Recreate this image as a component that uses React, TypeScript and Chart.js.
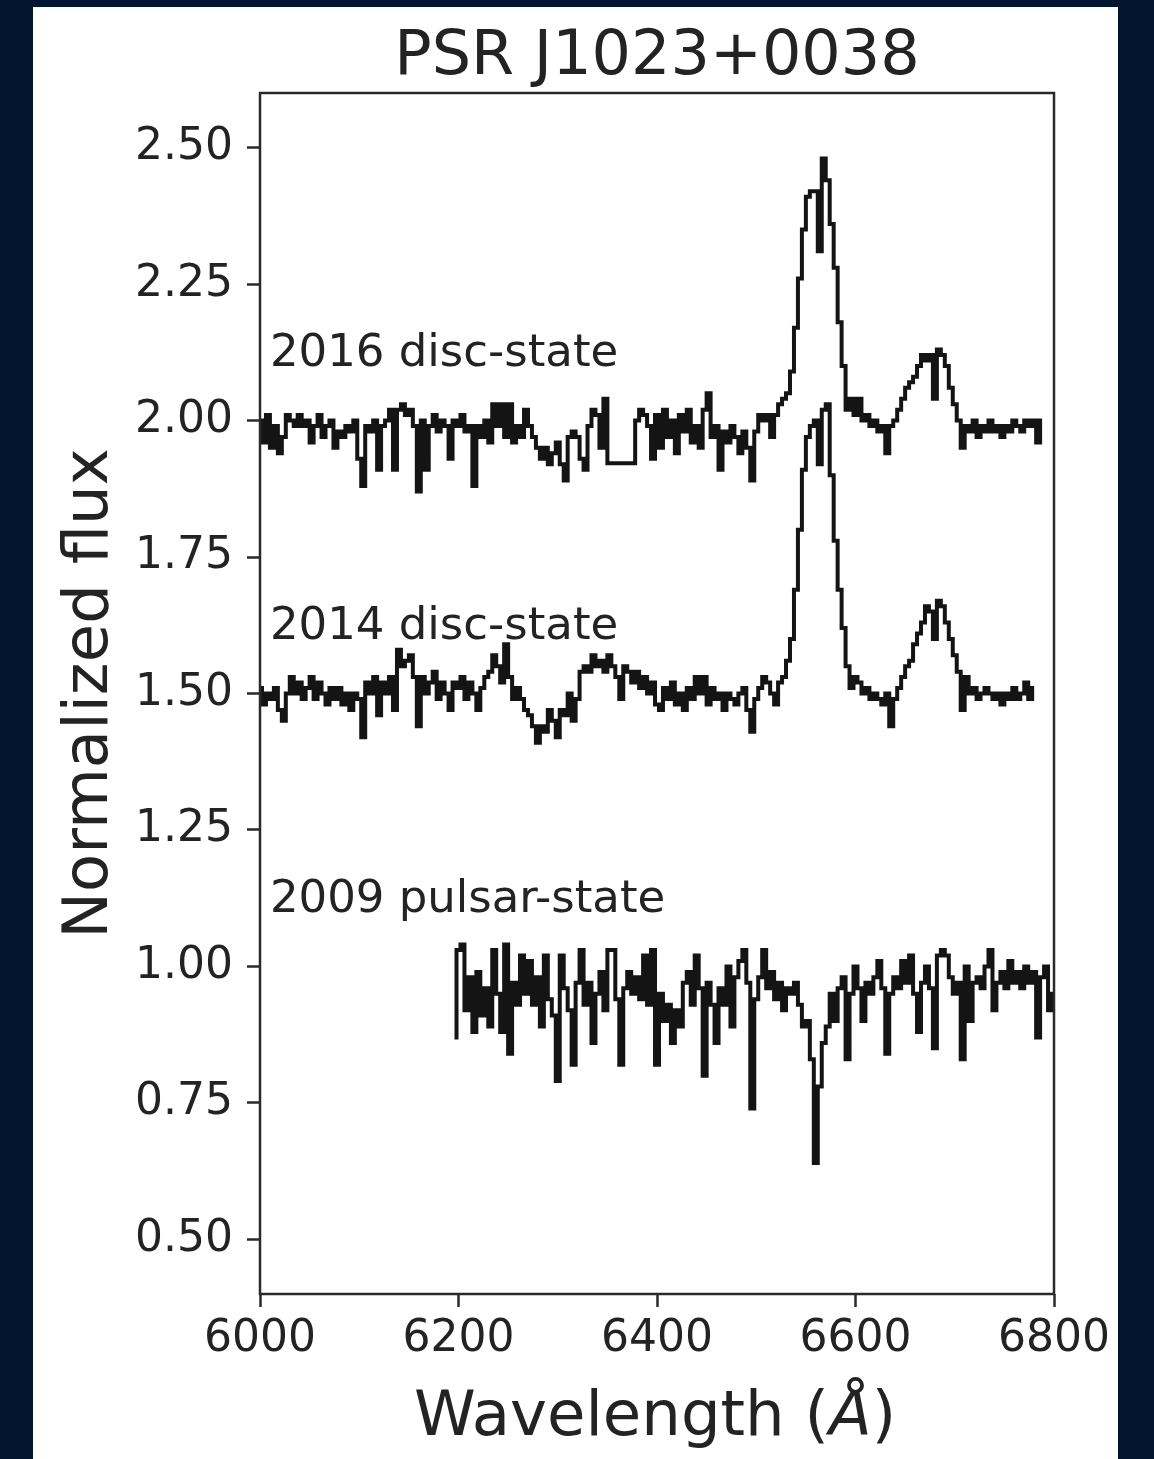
import React, { useEffect, useRef } from 'react';
import { Chart, registerables } from 'chart.js';

Chart.register(...registerables);

// ---------------- data ----------------
const titleText = 'PSR J1023+0038';
const xTitleParts = ['Wavelength (', 'Å', ')'];
const yTitleText = 'Normalized flux';

const xRange = [6000, 6800];
const yRange = [0.4, 2.6];
const xTicks = [6000, 6200, 6400, 6600, 6800];
const yTicks = [0.5, 0.75, 1.0, 1.25, 1.5, 1.75, 2.0, 2.25, 2.5];

const seriesLabels = ['2016 disc-state', '2014 disc-state', '2009 pulsar-state'];
const labelX = 6010;
const labelY = [2.1, 1.6, 1.1];

const step = 4; // Å per sample
const start2016 = 6000;
const flux2016 = [
  2.00, 1.96, 2.01, 1.95, 1.99, 1.94, 1.97, 2.01, 2.00, 1.99,
  2.01, 1.99, 2.00, 1.96, 1.99, 2.01, 1.97, 1.99, 2.00, 1.95,
  1.98, 1.97, 1.99, 1.98, 2.00, 1.93, 1.88, 1.99, 1.98, 2.00,
  1.91, 1.99, 2.00, 2.02, 1.91, 2.02, 2.03, 2.01, 2.02, 1.99,
  1.87, 2.00, 1.91, 1.99, 2.01, 1.98, 2.00, 1.99, 1.93, 2.00,
  1.99, 2.01, 1.98, 1.99, 1.88, 1.99, 1.97, 2.00, 1.96, 2.03,
  1.99, 2.03, 1.97, 2.03, 1.96, 1.99, 1.97, 2.02, 1.99, 1.97,
  1.95, 1.93, 1.95, 1.92, 1.94, 1.96, 1.92, 1.89, 1.97, 1.98,
  1.97, 1.93, 1.91, 1.99, 2.02, 2.01, 1.95, 2.04, 1.922, 1.922,
  1.922, 1.922, 1.922, 1.922, 1.922, 2.00, 2.02, 2.01, 1.99, 1.93,
  2.01, 1.95, 2.02, 1.97, 2.00, 1.94, 2.01, 1.98, 2.02, 1.96,
  1.99, 1.95, 2.02, 2.05, 1.97, 1.99, 1.91, 1.98, 1.96, 1.99,
  1.97, 1.94, 1.98, 1.95, 1.89, 1.98, 2.01, 2.00, 2.01, 1.97,
  2.01, 2.03, 2.04, 2.05, 2.09, 2.17, 2.26, 2.35, 2.41, 2.42,
  2.42, 2.31, 2.48, 2.44, 2.36, 2.28, 2.18, 2.10, 2.02, 2.04,
  2.01, 2.04, 2.00, 2.01, 1.99, 2.00, 1.98, 1.99, 1.94, 1.99,
  2.00, 2.02, 2.04, 2.06, 2.07, 2.08, 2.10, 2.12, 2.11, 2.12,
  2.04, 2.13, 2.12, 2.10, 2.06, 2.03, 2.00, 1.95, 1.99, 1.98,
  2.00, 1.97, 1.99, 1.98, 2.00, 1.98, 1.99, 1.97, 1.99, 1.98,
  2.00, 1.99, 1.98, 2.00, 1.99, 2.00, 1.96, 2.00,
];

const start2014 = 6000;
const flux2014 = [
  1.51, 1.48, 1.50, 1.49, 1.51, 1.47, 1.45, 1.50, 1.53, 1.50,
  1.52, 1.49, 1.51, 1.53, 1.49, 1.52, 1.50, 1.48, 1.51, 1.49,
  1.51, 1.48, 1.50, 1.47, 1.50, 1.49, 1.42, 1.52, 1.50, 1.53,
  1.46, 1.52, 1.50, 1.53, 1.47, 1.58, 1.55, 1.56, 1.57, 1.53,
  1.44, 1.53, 1.50, 1.52, 1.54, 1.49, 1.52, 1.50, 1.47, 1.52,
  1.51, 1.53, 1.49, 1.52, 1.50, 1.47, 1.51, 1.53, 1.54, 1.57,
  1.55, 1.52, 1.59, 1.53, 1.49, 1.51, 1.49, 1.47, 1.46, 1.44,
  1.41, 1.44, 1.43, 1.47, 1.45, 1.42, 1.47, 1.46, 1.50, 1.45,
  1.49, 1.54, 1.55, 1.54, 1.57, 1.55, 1.56, 1.54, 1.57, 1.55,
  1.53, 1.49, 1.55, 1.54, 1.52, 1.54, 1.51, 1.53, 1.50, 1.52,
  1.48, 1.47, 1.51, 1.49, 1.52, 1.48, 1.50, 1.47, 1.51, 1.49,
  1.53, 1.50, 1.53, 1.48, 1.51, 1.49, 1.50, 1.47, 1.50, 1.49,
  1.48, 1.50, 1.51, 1.47, 1.43, 1.49, 1.51, 1.53, 1.52, 1.50,
  1.48, 1.52, 1.53, 1.56, 1.60, 1.69, 1.80, 1.91, 1.97, 1.99,
  2.00, 1.92, 2.02, 2.03, 1.90, 1.78, 1.69, 1.62, 1.55, 1.51,
  1.53, 1.52, 1.50, 1.51, 1.49, 1.50, 1.49, 1.48, 1.50, 1.44,
  1.49, 1.51, 1.53, 1.55, 1.56, 1.59, 1.61, 1.63, 1.66, 1.65,
  1.60, 1.67, 1.66, 1.63, 1.60, 1.57, 1.54, 1.47, 1.53, 1.50,
  1.51, 1.49, 1.50, 1.51, 1.50, 1.49, 1.50, 1.48, 1.50, 1.49,
  1.51, 1.49, 1.50, 1.52, 1.49, 1.51,
];

const start2009 = 6196;
const flux2009 = [
  0.87, 1.03, 1.04, 0.92, 0.98, 0.88, 0.99, 0.91, 0.96, 0.89,
  1.03, 0.95, 0.88, 1.04, 0.84, 0.97, 0.93, 1.02, 0.95, 1.01,
  0.93, 0.98, 0.89, 1.02, 0.94, 0.91, 0.79, 1.02, 0.96, 0.92,
  0.82, 0.97, 1.03, 0.93, 0.97, 0.86, 0.95, 0.99, 0.92, 1.03,
  1.03, 0.94, 0.82, 0.96, 0.99, 0.95, 0.98, 0.94, 1.02, 0.93,
  1.03, 0.82, 0.95, 0.90, 0.93, 0.86, 0.92, 0.89, 0.97, 0.99,
  0.93, 1.02, 0.96, 0.80, 0.97, 0.93, 0.86, 0.96, 0.93, 1.00,
  0.89, 0.98, 1.01, 1.03, 0.97, 0.74, 0.94, 0.98, 1.03, 0.96,
  0.99, 0.94, 0.97, 0.92, 0.96, 0.95, 0.97, 0.93, 0.89, 0.90,
  0.83, 0.64, 0.78, 0.86, 0.89, 0.95, 0.90, 0.96, 0.98, 0.83,
  0.95, 1.00, 0.96, 0.90, 0.97, 0.95, 0.98, 1.01, 0.96, 0.84,
  0.95, 0.98, 0.96, 1.01, 0.97, 1.02, 0.95, 0.88, 0.97, 1.00,
  0.96, 0.85, 1.02, 1.03, 1.02, 0.98, 0.95, 0.97, 0.83, 1.00,
  0.90, 0.97, 0.98, 0.96, 1.00, 1.03, 0.92, 0.97, 0.99, 0.96,
  1.01, 0.97, 0.99, 0.96, 1.00, 0.97, 0.99, 0.87, 0.98, 1.00,
  0.92, 0.95,
];

// ---------------- styling ----------------
const NAVY = '#011530';
const INK = '#141414';
const TEXT = '#232323';
const FRAME = '#2a2a2a';
const FONT = '"DejaVu Sans", "Liberation Sans", sans-serif';

const toPoints = (start: number, vals: number[]) =>
  vals.map((v, i) => ({ x: start + i * step, y: v }));

const textPlugin = {
  id: 'frameAndText',
  afterDatasetsDraw(chart: any) {
    const { ctx, chartArea } = chart;
    ctx.save();
    ctx.strokeStyle = FRAME;
    ctx.lineWidth = 2.5;
    ctx.strokeRect(chartArea.left, chartArea.top, chartArea.right - chartArea.left, chartArea.bottom - chartArea.top);
    ctx.restore();
  },
  afterDraw(chart: any) {
    const { ctx, chartArea, scales } = chart;
    const cx = (chartArea.left + chartArea.right) / 2;
    const cy = (chartArea.top + chartArea.bottom) / 2;
    ctx.save();
    ctx.fillStyle = TEXT;
    ctx.textBaseline = 'alphabetic';

    // title
    ctx.font = `62px ${FONT}`;
    ctx.textAlign = 'center';
    ctx.fillText(titleText, cx, chartArea.top - 19);

    // x title with italic Å
    const normal = `62.5px ${FONT}`;
    const italic = `italic 62.5px ${FONT}`;
    ctx.font = normal;
    const w0 = ctx.measureText(xTitleParts[0]).width;
    const w2 = ctx.measureText(xTitleParts[2]).width;
    ctx.font = italic;
    const w1 = ctx.measureText(xTitleParts[1]).width;
    const total = w0 + w1 + w2;
    let x = cx - total / 2 - 2;
    const by = chartArea.bottom + 141;
    ctx.textAlign = 'left';
    ctx.font = normal;
    ctx.fillText(xTitleParts[0], x, by);
    x += w0;
    ctx.font = italic;
    ctx.fillText(xTitleParts[1], x, by);
    x += w1;
    ctx.font = normal;
    ctx.fillText(xTitleParts[2], x, by);

    // y title
    ctx.save();
    ctx.translate(chartArea.left - 153, cy);
    ctx.rotate(-Math.PI / 2);
    ctx.textAlign = 'center';
    ctx.font = normal;
    ctx.fillText(yTitleText, 0, 0);
    ctx.restore();

    // series annotations
    ctx.font = `45px ${FONT}`;
    ctx.textAlign = 'left';
    seriesLabels.forEach((t, i) => {
      ctx.fillText(t, scales.x.getPixelForValue(labelX), scales.y.getPixelForValue(labelY[i]));
    });
    ctx.restore();
  },
};

export default function App() {
  const ref = useRef<HTMLCanvasElement | null>(null);

  useEffect(() => {
    if (!ref.current) return;
    const line = (start: number, vals: number[]) => ({
      data: toPoints(start, vals),
      borderColor: INK,
      borderWidth: 4,
      pointRadius: 0,
      stepped: 'middle' as const,
      fill: false,
      tension: 0,
    });
    const tickGrid = {
      display: true,
      drawOnChartArea: false,
      drawTicks: true,
      tickLength: 13,
      tickWidth: 2.5,
      tickColor: FRAME,
    };
    const chart = new Chart(ref.current, {
      type: 'line',
      data: {
        datasets: [
          { label: seriesLabels[0], ...line(start2016, flux2016) },
          { label: seriesLabels[1], ...line(start2014, flux2014) },
          { label: seriesLabels[2], ...line(start2009, flux2009) },
        ],
      },
      options: {
        responsive: false,
        animation: false,
        layout: { padding: { left: 0, top: 86, right: 64, bottom: 0 } },
        plugins: { legend: { display: false }, tooltip: { enabled: false }, title: { display: false } },
        scales: {
          x: {
            type: 'linear',
            min: xRange[0],
            max: xRange[1],
            afterBuildTicks: (s: any) => { s.ticks = xTicks.map((v) => ({ value: v })); },
            afterFit: (s: any) => { s.height = 165; },
            ticks: {
              autoSkip: false,
              maxRotation: 0,
              minRotation: 0,
              padding: 6,
              color: TEXT,
              font: { family: FONT, size: 44 },
              callback: (v: any) => String(v),
            },
            grid: tickGrid,
            border: { display: false },
          },
          y: {
            type: 'linear',
            min: yRange[0],
            max: yRange[1],
            afterBuildTicks: (s: any) => { s.ticks = yTicks.map((v) => ({ value: v })); },
            afterFit: (s: any) => { s.width = 227; },
            ticks: {
              autoSkip: false,
              padding: 14,
              color: TEXT,
              font: { family: FONT, size: 44 },
              callback: (v: any) => Number(v).toFixed(2),
            },
            grid: tickGrid,
            border: { display: false },
          },
        },
      },
      plugins: [textPlugin],
    });
    return () => chart.destroy();
  }, []);

  return (
    <div style={{ position: 'absolute', left: 0, top: 0, width: 1154, height: 1459, background: NAVY, overflow: 'hidden' }}>
      <div style={{ position: 'absolute', left: 33, top: 7, width: 1085, height: 1452, background: '#ffffff' }}>
        <canvas ref={ref} width={1085} height={1452} style={{ display: 'block', width: 1085, height: 1452 }} />
      </div>
    </div>
  );
}
